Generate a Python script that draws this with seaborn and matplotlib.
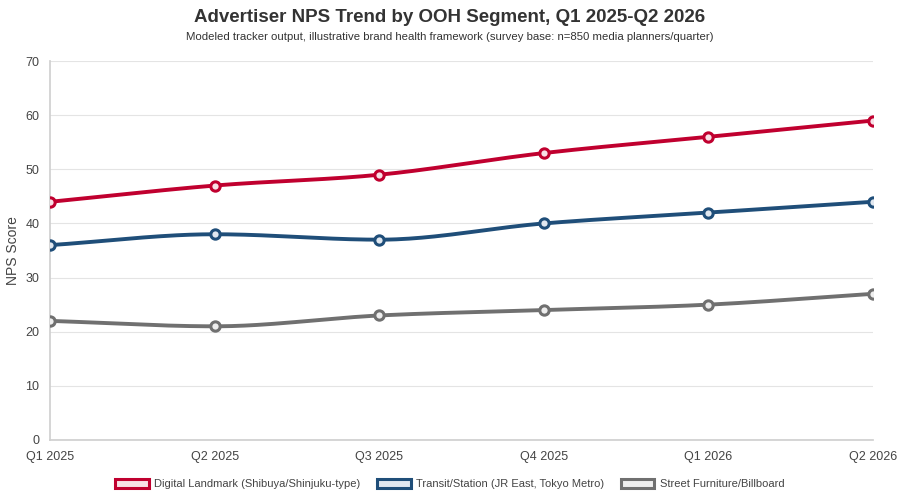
import numpy as np
import pandas as pd
import matplotlib
matplotlib.use("Agg")
import matplotlib.pyplot as plt
import seaborn as sns
from matplotlib.patches import Patch

quarters = ["Q1 2025", "Q2 2025", "Q3 2025", "Q4 2025", "Q1 2026", "Q2 2026"]
digital = [44, 47, 49, 53, 56, 59]
transit = [36, 38, 37, 40, 42, 44]
street = [22, 21, 23, 24, 25, 27]
names = ["Digital Landmark (Shibuya/Shinjuku-type)", "Transit/Station (JR East, Tokyo Metro)", "Street Furniture/Billboard"]
colors = ["#c0002f", "#1f4e79", "#707070"]
fills = ["#f8e0e6", "#e1e8f0", "#eeeeee"]

sns.set_theme(style="white")
plt.rcParams['font.family'] = ['Liberation Sans', 'DejaVu Sans']

def monotone(y, n=40):
    y = np.asarray(y, float); x = np.arange(len(y))
    d = np.diff(y)
    m = np.zeros(len(y)); m[0] = d[0]; m[-1] = d[-1]
    for i in range(1, len(y)-1):
        m[i] = 0 if d[i-1]*d[i] <= 0 else (d[i-1]+d[i])/2
    for i in range(len(d)):
        if d[i] == 0: m[i] = m[i+1] = 0
        else:
            a, b = m[i]/d[i], m[i+1]/d[i]
            s = a*a + b*b
            if s > 9:
                t = 3/np.sqrt(s); m[i] = t*a*d[i]; m[i+1] = t*b*d[i]
    xs, ys = [], []
    for i in range(len(d)):
        t = np.linspace(0, 1, n)
        h00 = 2*t**3-3*t**2+1; h10 = t**3-2*t**2+t; h01 = -2*t**3+3*t**2; h11 = t**3-t**2
        xs.append(x[i]+t); ys.append(h00*y[i]+h10*m[i]+h01*y[i+1]+h11*m[i+1])
    return np.concatenate(xs), np.concatenate(ys)

fig = plt.figure(figsize=(9, 5), dpi=100)
ax = fig.add_axes([0.056, 0.12, 0.914, 0.758])
for vals, c, f in zip([digital, transit, street], colors, fills):
    xs, ys = monotone(vals)
    ax.plot(xs, ys, color=c, lw=2.8, zorder=2)
    df = pd.DataFrame({"x": np.arange(len(vals)), "y": vals})
    sns.scatterplot(data=df, x="x", y="y", ax=ax, s=45, color=f, edgecolor=c, linewidth=2.2, zorder=3)

ax.set_xlim(0, 5); ax.set_ylim(0, 70)
ax.set_yticks(range(0, 71, 10))
ax.set_xticks(range(6)); ax.set_xticklabels(quarters)
ax.tick_params(labelsize=9, colors="#444444", length=0, pad=8)
ax.grid(axis="y", color="#e4e4e4", lw=0.8); ax.set_axisbelow(True)
for s in ["top", "right"]: ax.spines[s].set_visible(False)
ax.spines["left"].set_color("#d0d0d0"); ax.spines["bottom"].set_color("#d0d0d0")
ax.set_xlabel(""); ax.set_ylabel("NPS Score", fontsize=10, color="#444444")
fig.text(0.5, 0.965, "Advertiser NPS Trend by OOH Segment, Q1 2025-Q2 2026", ha="center", va="center", fontsize=13.5, fontweight="bold", color="#333333")
fig.text(0.5, 0.927, "Modeled tracker output, illustrative brand health framework (survey base: n=850 media planners/quarter)", ha="center", va="center", fontsize=8.2, color="#333333")
handles = [Patch(facecolor=f, edgecolor=c, lw=2.2, label=n) for n, c, f in zip(names, colors, fills)]
fig.legend(handles=handles, loc="center", bbox_to_anchor=(0.5, 0.032), ncol=3, frameon=False, fontsize=8, handlelength=3, handleheight=0.9, columnspacing=1.5, handletextpad=0.5, labelcolor="#444444")
fig.savefig("out.png", dpi=100)
